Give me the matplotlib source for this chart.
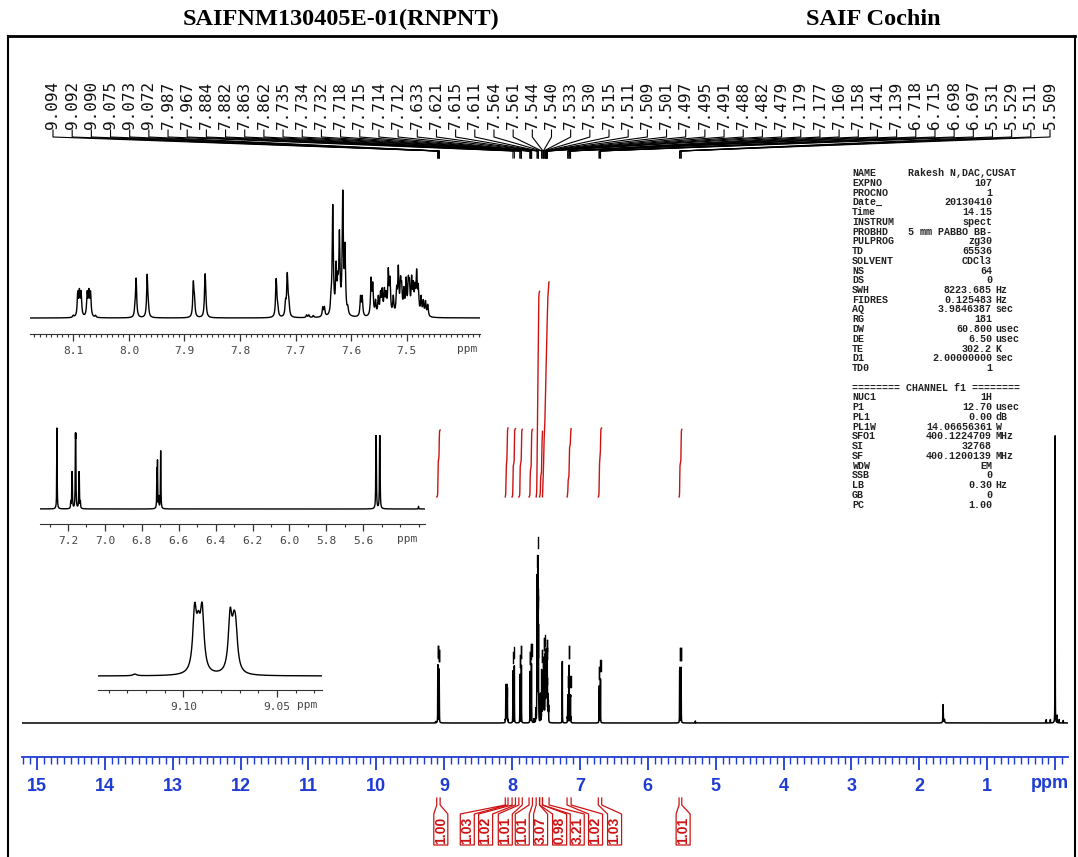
import matplotlib.pyplot as plt
import numpy as np

W, H = 1078, 857

# peak picking list printed across the top (ppm)
peak_labels = [9.094, 9.092, 9.090, 9.075, 9.073, 9.072, 7.987, 7.967, 7.884, 7.882,
               7.863, 7.862, 7.735, 7.734, 7.732, 7.718, 7.715, 7.714, 7.712, 7.633,
               7.621, 7.615, 7.611, 7.564, 7.561, 7.544, 7.540, 7.533, 7.530, 7.515,
               7.511, 7.509, 7.501, 7.497, 7.495, 7.491, 7.488, 7.482, 7.479, 7.179,
               7.177, 7.160, 7.158, 7.141, 7.139, 6.718, 6.715, 6.698, 6.697, 5.531,
               5.529, 5.511, 5.509]

# spectrum lines: position (ppm) and height (tallest aromatic line ~ 1)
line_ppm = [9.126, 9.094, 9.092, 9.090, 9.075, 9.073, 9.072,
            8.100, 8.092, 8.089, 8.086, 8.075, 8.072, 8.069, 8.060,
            7.989, 7.987, 7.967, 7.965,
            7.884, 7.882, 7.863, 7.862,
            7.735, 7.734, 7.732, 7.718, 7.715, 7.714, 7.712,
            7.680, 7.676, 7.668, 7.651, 7.648,
            7.636, 7.633, 7.627, 7.624, 7.621, 7.615, 7.611, 7.606,
            7.583, 7.580,
            7.564, 7.561, 7.556, 7.551, 7.547, 7.544, 7.540, 7.537, 7.533, 7.530,
            7.524, 7.518, 7.515, 7.511, 7.509, 7.505, 7.501, 7.497, 7.495, 7.491,
            7.488, 7.485, 7.482, 7.479, 7.474, 7.470, 7.466, 7.462,
            7.260,
            7.185, 7.179, 7.177, 7.160, 7.158, 7.141, 7.139, 7.133,
            6.718, 6.715, 6.708, 6.698, 6.697,
            5.531, 5.529, 5.511, 5.509, 5.300,
            0.130, 0.070, 0.000, -0.030, -0.060, -0.120]
line_int = [0.008, 0.28, 0.16, 0.28, 0.26, 0.15, 0.15,
            0.015, 0.18, 0.18, 0.18, 0.18, 0.18, 0.18, 0.015,
            0.05, 0.30, 0.33, 0.05,
            0.26, 0.12, 0.25, 0.15,
            0.25, 0.08, 0.06, 0.10, 0.28, 0.08, 0.10,
            0.02, 0.02, 0.015, 0.07, 0.07,
            0.10, 0.85, 0.35, 0.20, 0.60, 0.93, 0.50, 0.05,
            0.15, 0.15,
            0.28, 0.23, 0.11, 0.14, 0.16, 0.18, 0.18, 0.14, 0.33, 0.26,
            0.14, 0.18, 0.35, 0.23, 0.18, 0.18, 0.26, 0.23, 0.20, 0.26,
            0.20, 0.18, 0.31, 0.20, 0.14, 0.11, 0.11, 0.09,
            0.37,
            0.03, 0.13, 0.13, 0.27, 0.27, 0.13, 0.13, 0.03,
            0.16, 0.20, 0.05, 0.20, 0.10,
            0.26, 0.26, 0.26, 0.26, 0.012,
            0.02, 0.02, 1.73, 0.045, 0.02, 0.015]
line_hw = 0.0012

# water signal is broader
broad_ppm = [1.65, 1.63]
broad_int = [0.11, 0.02]
broad_hw = [0.003, 0.004]

# integral regions (ppm) and values
integral_from = [9.11, 8.10, 8.00, 7.90, 7.75, 7.645, 7.595, 7.552, 7.19, 6.73, 5.54]
integral_to = [9.06, 8.06, 7.95, 7.85, 7.70, 7.595, 7.552, 7.455, 7.13, 6.68, 5.50]
integral_val = [1.00, 1.03, 1.02, 1.01, 1.01, 3.07, 0.98, 3.21, 1.02, 1.03, 1.01]
int_label_slot = [9.05, 8.66, 8.39, 8.10, 7.85, 7.58, 7.30, 7.04, 6.77, 6.49, 5.48]

# acquisition / processing parameters
param_keys = ['NAME', 'EXPNO', 'PROCNO', 'Date_', 'Time', 'INSTRUM', 'PROBHD', 'PULPROG',
              'TD', 'SOLVENT', 'NS', 'DS', 'SWH', 'FIDRES', 'AQ', 'RG', 'DW', 'DE', 'TE',
              'D1', 'TD0']
param_vals = ['Rakesh N,DAC,CUSAT', '107', '1', '20130410', '14.15', 'spect',
              '5 mm PABBO BB-', 'zg30', '65536', 'CDCl3', '64', '0', '8223.685',
              '0.125483', '3.9846387', '181', '60.800', '6.50', '302.2', '2.00000000', '1']
param_units = ['', '', '', '', '', '', '', '', '', '', '', '', 'Hz', 'Hz', 'sec', '',
               'usec', 'usec', 'K', 'sec', '']
chan_keys = ['NUC1', 'P1', 'PL1', 'PL1W', 'SFO1', 'SI', 'SF', 'WDW', 'SSB', 'LB', 'GB', 'PC']
chan_vals = ['1H', '12.70', '0.00', '14.06656361', '400.1224709', '32768', '400.1200139',
             'EM', '0', '0.30', '0', '1.00']
chan_units = ['', 'usec', 'dB', 'W', 'MHz', '', 'MHz', '', '', 'Hz', '', '']

BLUE = '#1f3cd2'
RED = '#cc1414'

# build spectrum
ppm = np.arange(-0.5, 15.5, 0.0002)
spec = np.zeros_like(ppm)
for p, a in zip(line_ppm, line_int):
    spec += a / (1 + ((ppm - p) / line_hw) ** 2)
for p, a, w in zip(broad_ppm, broad_int, broad_hw):
    spec += a / (1 + ((ppm - p) / w) ** 2)

fig = plt.figure(figsize=(W / 100, H / 100), dpi=100)


def px_axes(l, r, t, b):
    ax = fig.add_axes([l / W, 1 - b / H, (r - l) / W, (b - t) / H])
    ax.patch.set_visible(False)
    return ax


def to_px(ax, x, y):
    d = ax.transData.transform((x, y))
    return d[0], H - d[1]


# main spectrum
ax = px_axes(22, 1068, 160, 730)
ax.plot(ppm, spec, color='black', lw=1.1)
ax.set_xlim(15.22, -0.19)
ax.set_ylim(-(730 - 723) / 166, (723 - 160) / 166)
ax.axis('off')

# peak-pick markers above the labelled peaks
for p in peak_labels:
    m = (ppm > p - 0.003) & (ppm < p + 0.003)
    h = spec[m].max()
    ax.plot([p, p], [h + 0.045, h + 0.115], color='black', lw=1.0)

# integral curves
ax_int = px_axes(22, 1068, 160, 730)
ax_int.set_xlim(15.22, -0.19)
ax_int.set_ylim(-(730 - 497) / 67, (497 - 160) / 67)
ax_int.axis('off')
for a, b, v in zip(integral_from, integral_to, integral_val):
    m = (ppm <= a) & (ppm >= b)
    x = ppm[m][::-1]
    c = np.cumsum(spec[m][::-1])
    ax_int.plot(x, c / c[-1] * v, color=RED, lw=1.0)

# ppm ruler
ax_r = px_axes(22, 1068, 730, 757)
ax_r.set_xlim(15.22, -0.19)
ax_r.set_yticks([])
for s in ['top', 'left', 'right']:
    ax_r.spines[s].set_visible(False)
ax_r.spines['bottom'].set_color(BLUE)
ax_r.spines['bottom'].set_linewidth(1.3)
ax_r.set_xticks(np.arange(0, 16))
ax_r.set_xticklabels([''] + [str(i) for i in range(1, 16)])
ax_r.set_xticks(np.arange(-0.1, 15.21, 0.1), minor=True)
ax_r.tick_params(axis='x', which='major', length=9, width=1.3, color=BLUE, direction='out',
                 pad=6, labelcolor=BLUE, labelsize=13)
ax_r.tick_params(axis='x', which='minor', length=5, width=1.0, color=BLUE, direction='out')
for t in ax_r.get_xticklabels():
    t.set_fontfamily('Liberation Sans')
    t.set_fontweight('bold')
ax_r.text(0.07, -1.0, 'ppm', transform=ax_r.get_xaxis_transform(), color=BLUE,
          fontsize=13, fontweight='bold', family='Liberation Sans', ha='center', va='center')


def inset(l, r, spine, base, top, lo, hi, major, minor, fmt, ppm_at):
    axi = px_axes(l, r, top - 12, spine)
    axi.plot(ppm, spec, color='black', lw=1.0)
    axi.set_xlim(hi, lo)
    m = (ppm >= lo) & (ppm <= hi)
    ymax = spec[m].max()
    s = (base - top) / ymax
    axi.set_ylim(-(spine - base) / s, (base - top + 12) / s)
    axi.set_yticks([])
    for k in ['top', 'left', 'right']:
        axi.spines[k].set_visible(False)
    axi.spines['bottom'].set_color('#333333')
    axi.set_xticks(major)
    axi.set_xticklabels([fmt % v for v in major])
    axi.set_xticks(minor, minor=True)
    axi.tick_params(axis='x', which='major', length=5, width=0.9, color='#333333',
                    labelsize=8, labelcolor='#444444', pad=4)
    axi.tick_params(axis='x', which='minor', length=2.5, width=0.8, color='#333333')
    for t in axi.get_xticklabels():
        t.set_fontfamily('DejaVu Sans Mono')
    axi.annotate('ppm', xy=((ppm_at - l) / (r - l), 0), xycoords='axes fraction',
                 xytext=(0, -7), textcoords='offset points', fontsize=8,
                 color='#444444', family='DejaVu Sans Mono', ha='center', va='top')
    return axi


inset(30, 480, 334, 318, 190, 7.368, 8.178,
      [8.1, 8.0, 7.9, 7.8, 7.7, 7.6, 7.5], np.arange(7.37, 8.18, 0.01), '%.1f', 467)
inset(40, 425, 524, 509, 428, 5.265, 7.352,
      [7.2, 7.0, 6.8, 6.6, 6.4, 6.2, 6.0, 5.8, 5.6], np.arange(5.3, 7.35, 0.1), '%.1f', 407)
inset(98, 322, 690, 676, 602, 9.0259, 9.1457,
      [9.10, 9.05], np.arange(9.03, 9.145, 0.01), '%.2f', 307)

# overlay in pixel units for labels, connectors and frame
pix = fig.add_axes([0, 0, 1, 1])
pix.set_xlim(0, W)
pix.set_ylim(H, 0)
pix.axis('off')

# frame and titles
pix.plot([8, 1075], [36, 36], color='black', lw=2)
pix.plot([8, 8], [36, H], color='black', lw=1.5)
pix.plot([1075, 1075], [36, H], color='black', lw=1.5)
pix.text(341, 19, 'SAIFNM130405E-01(RNPNT)', family='Liberation Serif', fontweight='bold',
         fontsize=17.5, ha='center', va='center')
pix.text(873, 19, 'SAIF Cochin', family='Liberation Serif', fontweight='bold',
         fontsize=17.5, ha='center', va='center')

# peak labels with connectors
label_x = np.linspace(53, 1050, len(peak_labels))
for lx, p in zip(label_x, peak_labels):
    px, _ = to_px(ax, p, 0)
    pix.text(lx, 129, '%.3f' % p, rotation=90, ha='center', va='bottom',
             family='DejaVu Sans Mono', fontsize=11.5, color='#111111')
    pix.plot([lx, lx, px, px], [130, 137, 151, 158], color='black', lw=0.8)

# integral labels below the ruler
for a, b, v, slot in zip(integral_from, integral_to, integral_val, int_label_slot):
    xa, _ = to_px(ax, a, 0)
    xb, _ = to_px(ax, b, 0)
    lx, _ = to_px(ax, slot, 0)
    pix.plot([xa, xa, lx - 7, lx - 7, lx + 7, lx + 7, xb, xb],
             [798, 805, 814, 845, 845, 814, 805, 798], color=RED, lw=0.9)
    pix.text(lx, 830, '%.2f' % v, rotation=90, ha='center', va='center', color=RED,
             family='Liberation Sans', fontweight='bold', fontsize=10)

# parameter listing
rows = list(zip(param_keys, param_vals, param_units)) + [None, 'chan'] + \
    list(zip(chan_keys, chan_vals, chan_units))
for i, row in enumerate(rows):
    y = 173 + i * 9.75
    if row is None:
        continue
    if row == 'chan':
        pix.text(852, y, '======== CHANNEL f1 ========', family='Liberation Mono',
                 fontweight='bold', fontsize=7.2, va='center', color='#222222')
        continue
    k, v, u = row
    pix.text(852, y, k, family='Liberation Mono', fontweight='bold', fontsize=7.2,
             va='center', color='#222222')
    vx = 1016 if len(v) > 15 else 992
    pix.text(vx, y, v, family='Liberation Mono', fontweight='bold', fontsize=7.2,
             va='center', ha='right', color='#222222')
    if u:
        pix.text(995, y, u, family='Liberation Mono', fontweight='bold', fontsize=7.2,
                 va='center', color='#222222')

fig.savefig('out.png', dpi=100)
